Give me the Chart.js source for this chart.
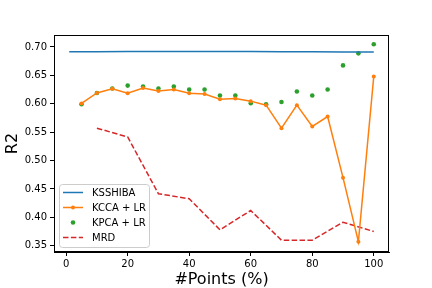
<!DOCTYPE html>
<html lang="en">
<head>
    <meta charset="UTF-8">
    <title>R2 vs #Points</title>
    <script src="https://cdn.jsdelivr.net/npm/chart.js"></script>
    <style>
        html, body { margin: 0; padding: 0; background: #fff; }
        #wrap { width: 432px; height: 288px; }
    </style>
</head>
<body>
    <div id="wrap"><canvas id="r2Chart" width="432" height="288"></canvas></div>

    <script>
        // values
        const ksshibaX = [1, 10, 20, 30, 40, 50, 60, 70, 80, 90, 100];
        const ksshibaY = [0.6915, 0.6918, 0.692, 0.692, 0.692, 0.692, 0.692, 0.6915, 0.6915, 0.691, 0.691];

        const pointsX = [5, 10, 15, 20, 25, 30, 35, 40, 45, 50, 55, 60, 65, 70, 75, 80, 85, 90, 95, 100];
        const kccaY = [0.6005, 0.619, 0.6264, 0.6187, 0.6276, 0.6223, 0.6252, 0.6187, 0.617, 0.608,
                       0.6093, 0.6046, 0.5975, 0.5569, 0.5975, 0.560, 0.5775, 0.4698, 0.357, 0.6482];
        const kpcaY = [0.599, 0.619, 0.627, 0.632, 0.6305, 0.627, 0.6305, 0.625, 0.625, 0.6146,
                       0.6146, 0.601, 0.599, 0.603, 0.6217, 0.6146, 0.625, 0.6676, 0.6888, 0.7048];

        const mrdX = [10, 20, 30, 40, 50, 60, 70, 80, 90, 100];
        const mrdY = [0.557, 0.5415, 0.4415, 0.4327, 0.378, 0.412, 0.3596, 0.3596, 0.3913, 0.375];

        const xTicks = [0, 20, 40, 60, 80, 100];
        const yTicks = [0.35, 0.40, 0.45, 0.50, 0.55, 0.60, 0.65, 0.70];

        const BLUE = '#1f77b4', ORANGE = '#ff7f0e', GREEN = '#2ca02c', RED = '#d62728';
        const FONT = "'DejaVu Sans', sans-serif";

        function pts(xs, ys) {
            return xs.map((x, i) => ({ x: x, y: ys[i] }));
        }

        const legendItems = [
            { label: 'KSSHIBA', type: 'line', color: BLUE },
            { label: 'KCCA + LR', type: 'linedot', color: ORANGE },
            { label: 'KPCA + LR', type: 'dot', color: GREEN },
            { label: 'MRD', type: 'dash', color: RED }
        ];

        // matplotlib-like legend box in lower left + frame round the plot
        const framePlugin = {
            id: 'frame',
            afterDatasetsDraw(chart) {
                const ctx = chart.ctx;
                const a = chart.chartArea;
                ctx.save();
                // legend
                const lx = 59, ly = 184, lw = 90, lh = 63;
                ctx.beginPath();
                ctx.roundRect(lx + 0.5, ly + 0.5, lw, lh, 3);
                ctx.fillStyle = 'rgba(255,255,255,0.8)';
                ctx.fill();
                ctx.strokeStyle = '#cccccc';
                ctx.lineWidth = 1;
                ctx.stroke();
                ctx.font = '10px ' + FONT;
                ctx.textBaseline = 'middle';
                ctx.textAlign = 'left';
                legendItems.forEach((it, i) => {
                    const y = 192.5 + i * 15;
                    ctx.strokeStyle = it.color;
                    ctx.fillStyle = it.color;
                    ctx.lineWidth = 1.5;
                    if (it.type !== 'dot') {
                        ctx.setLineDash(it.type === 'dash' ? [5.5, 2.4] : []);
                        ctx.beginPath();
                        ctx.moveTo(63, y);
                        ctx.lineTo(83, y);
                        ctx.stroke();
                        ctx.setLineDash([]);
                    }
                    if (it.type === 'dot' || it.type === 'linedot') {
                        ctx.beginPath();
                        ctx.arc(73, y, it.type === 'dot' ? 2.3 : 2, 0, Math.PI * 2);
                        ctx.fill();
                    }
                    ctx.fillStyle = '#000';
                    ctx.fillText(it.label, 92, y + 0.5);
                });
                // frame
                ctx.strokeStyle = '#000';
                ctx.lineWidth = 1;
                ctx.strokeRect(a.left + 0.5, a.top + 0.5, a.right - a.left - 1, a.bottom - a.top - 1);
                ctx.restore();
            }
        };

        const ctx = document.getElementById('r2Chart').getContext('2d');
        const r2Chart = new Chart(ctx, {
            type: 'line',
            data: {
                datasets: [{
                    label: 'KSSHIBA',
                    data: pts(ksshibaX, ksshibaY),
                    borderColor: BLUE,
                    borderWidth: 1.5,
                    pointRadius: 0,
                    fill: false
                }, {
                    label: 'KCCA + LR',
                    data: pts(pointsX, kccaY),
                    borderColor: ORANGE,
                    backgroundColor: ORANGE,
                    borderWidth: 1.5,
                    pointRadius: 2,
                    pointBorderWidth: 0,
                    fill: false
                }, {
                    label: 'KPCA + LR',
                    data: pts(pointsX, kpcaY),
                    borderColor: GREEN,
                    backgroundColor: GREEN,
                    showLine: false,
                    pointRadius: 2.3,
                    pointBorderWidth: 0
                }, {
                    label: 'MRD',
                    data: pts(mrdX, mrdY),
                    borderColor: RED,
                    borderWidth: 1.5,
                    borderDash: [5.5, 2.4],
                    pointRadius: 0,
                    fill: false
                }]
            },
            options: {
                responsive: false,
                animation: false,
                devicePixelRatio: 1,
                layout: { padding: { top: 35, right: 43, left: 0, bottom: 0 } },
                plugins: {
                    legend: { display: false },
                    tooltip: { enabled: false }
                },
                scales: {
                    x: {
                        type: 'linear',
                        min: -3.95,
                        max: 104.95,
                        afterBuildTicks: s => { s.ticks = xTicks.map(v => ({ value: v })); },
                        afterFit: s => { s.height = 36; },
                        grid: { drawOnChartArea: false, drawTicks: true, tickLength: 4, color: '#000' },
                        border: { display: true, color: '#000', width: 1 },
                        ticks: { color: '#000', font: { family: FONT, size: 10 }, padding: 2, maxRotation: 0 },
                        title: { display: true, text: '#Points (%)', color: '#000',
                                 font: { family: FONT, size: 16, lineHeight: 1 }, padding: { top: 0, bottom: 0 } }
                    },
                    y: {
                        min: 0.3389,
                        max: 0.7211,
                        afterBuildTicks: s => { s.ticks = yTicks.map(v => ({ value: v })); },
                        afterFit: s => { s.width = 54; },
                        grid: { drawOnChartArea: false, drawTicks: true, tickLength: 4, color: '#000' },
                        border: { display: true, color: '#000', width: 1 },
                        ticks: { color: '#000', font: { family: FONT, size: 10 }, padding: 3,
                                 callback: v => v.toFixed(2) },
                        title: { display: true, text: 'R2', color: '#000',
                                 font: { family: FONT, size: 16, lineHeight: 1 }, padding: { top: 5, bottom: 0 } }
                    }
                }
            },
            plugins: [framePlugin]
        });
    </script>
</body>
</html>
